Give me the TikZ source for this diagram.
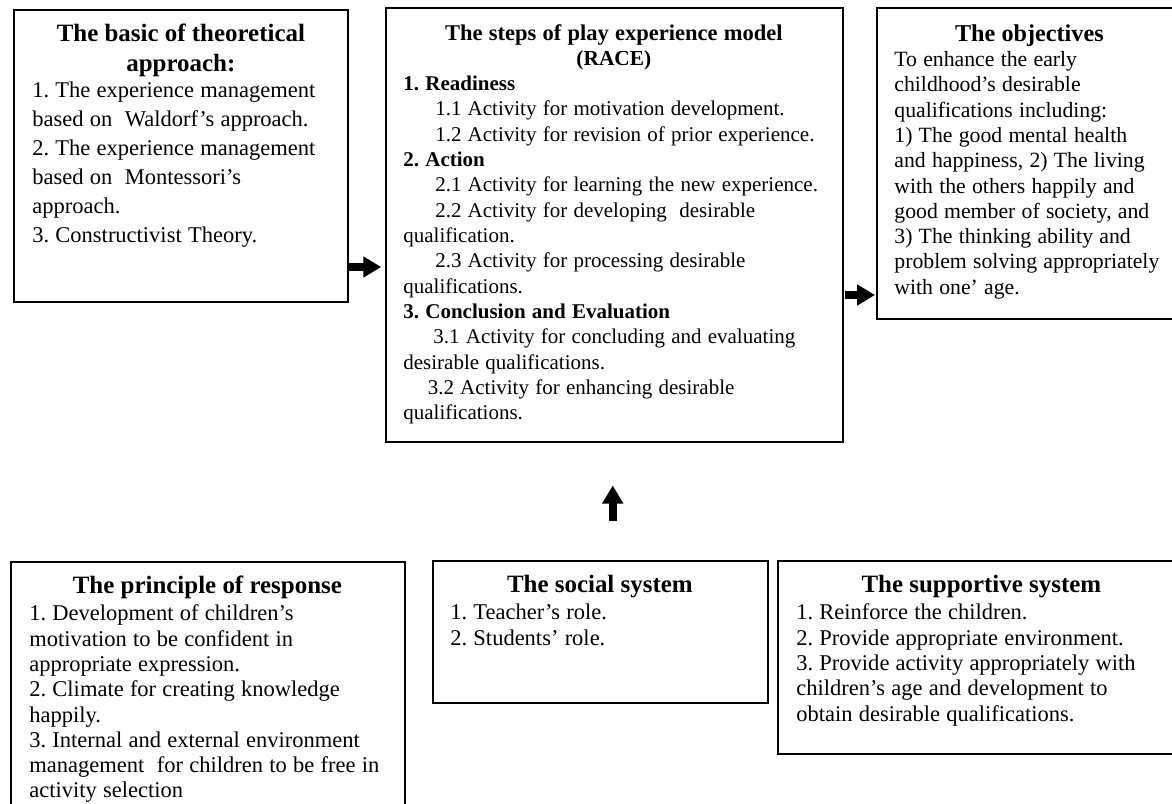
\documentclass[tikz,border=0pt]{standalone}
\usepackage{fontspec}
\setmainfont{Liberation Serif}
\usetikzlibrary{arrows.meta,calc}

\newcommand{\pxlen}{0.5333pt}
\newcommand{\boxtitle}[3]{{\centering\fontsize{#1}{#2}\selectfont\bfseries #3\par}}
\frenchspacing

\begin{document}
\begin{tikzpicture}[x=\pxlen,y=-\pxlen]
\tikzset{
  panel/.style={draw,line width=0.8pt,anchor=north west,inner sep=0pt},
  panelText/.style={anchor=north west,inner sep=0pt,align=left},
  blockArrow/.style={line width=4pt,-{Triangle[width=10.7pt,length=9.6pt]}}
}

% Fix the size of the picture.
\useasboundingbox (0,0) rectangle (1172,803);
\clip (0,0) rectangle (1172,803);

% The boxes of the model.
\node[panel,minimum width={334*\pxlen},minimum height={292*\pxlen}] (basic) at (13,9) {};
\node[panel,minimum width={457*\pxlen},minimum height={434*\pxlen}] (steps) at (385,7) {};
\node[panel,minimum width={306*\pxlen},minimum height={311*\pxlen}] (objectives) at (876,7) {};
\node[panel,minimum width={394*\pxlen},minimum height={270*\pxlen}] (principle) at (10,561) {};
\node[panel,minimum width={335*\pxlen},minimum height={142*\pxlen}] (social) at (432,560) {};
\node[panel,minimum width={408*\pxlen},minimum height={193*\pxlen}] (supportive) at (777,560) {};

% The texts inside the boxes.
\node[panelText,text width={297*\pxlen}] (basicText) at ($(basic.north west)+(19,15)$) {\fontsize{12}{15.5}\selectfont%
\boxtitle{13.3}{15.5}{The basic of theoretical\\approach:}
\vspace{-1.6pt}
1. The experience management\\
based on\ \ Waldorf's approach.\\
2. The experience management\\
based on\ \ Montessori's\\
approach.\\
3. Constructivist Theory.\par};

\node[panelText,text width={421*\pxlen}] (stepsText) at ($(steps.north west)+(18,17)$) {\fontsize{11.2}{13.5}\selectfont%
\boxtitle{12}{13.4}{The steps of play experience model\\{\fontsize{11.4}{13.4}\selectfont(RACE)}}
\textbf{1. Readiness}\\
\hspace*{17pt}1.1 Activity for motivation development.\\
\hspace*{17pt}1.2 Activity for revision of prior experience.\\
\textbf{2. Action}\\
\hspace*{17pt}2.1 Activity for learning the new experience.\\
\hspace*{17pt}2.2 Activity for developing\ \ desirable\\
qualification.\\
\hspace*{17pt}2.3 Activity for processing desirable\\
qualifications.\\
\textbf{3. Conclusion and Evaluation}\\
\hspace*{16pt}3.1 Activity for concluding and evaluating\\
desirable qualifications.\\
\hspace*{13pt}3.2 Activity for enhancing desirable\\
qualifications.\par};

\node[panelText,text width={270*\pxlen}] (objectivesText) at ($(objectives.north west)+(18,17)$) {\fontsize{11.6}{13.5}\selectfont%
\boxtitle{12.9}{13.5}{The objectives}
To enhance the early\\
childhood's desirable\\
qualifications including:\\
1) The good mental health\\
and happiness, 2) The living\\
with the others happily and\\
good member of society, and\\
3) The thinking ability and\\
problem solving appropriately\\
with one' age.\par};

\node[panelText,text width={356*\pxlen}] (principleText) at ($(principle.north west)+(19,15)$) {\fontsize{12}{13.5}\selectfont%
\boxtitle{13.3}{13.5}{The principle of response}
\vspace{0.8pt}
1. Development of children's\\
motivation to be confident in\\
appropriate expression.\\
2. Climate for creating knowledge\\
happily.\\
3. Internal and external environment\\
management\ \ for children to be free in\\
activity selection\par};

\node[panelText,text width={299*\pxlen}] (socialText) at ($(social.north west)+(18,15)$) {\fontsize{12}{13.5}\selectfont%
\boxtitle{13.3}{13.5}{The social system}
\vspace{1pt}
1. Teacher's role.\\
2. Students' role.\par};

\node[panelText,text width={370*\pxlen}] (supportiveText) at ($(supportive.north west)+(19,15)$) {\fontsize{12}{13.5}\selectfont%
\boxtitle{13.3}{13.5}{The supportive system}
\vspace{1pt}
1. Reinforce the children.\\
2. Provide appropriate environment.\\
3. Provide activity appropriately with\\
children's age and development to\\
obtain desirable qualifications.\par};

% The arrows between the boxes.
\coordinate (arrowAB) at (0,267);
\coordinate (arrowBC) at (0,295);
\coordinate (upTail) at ($(steps.south)+(-1.5,78)$);
\coordinate (upTip) at ($(steps.south)+(-1.5,43)$);

\draw[blockArrow,shorten <=0.5pt,shorten >=2pt] (basic.east |- arrowAB) -- (steps.west |- arrowAB);
\draw[blockArrow,shorten <=1pt,shorten >=0.5pt] (steps.east |- arrowBC) -- (objectives.west |- arrowBC);
\draw[blockArrow] (upTail) -- (upTip);

\end{tikzpicture}
\end{document}
